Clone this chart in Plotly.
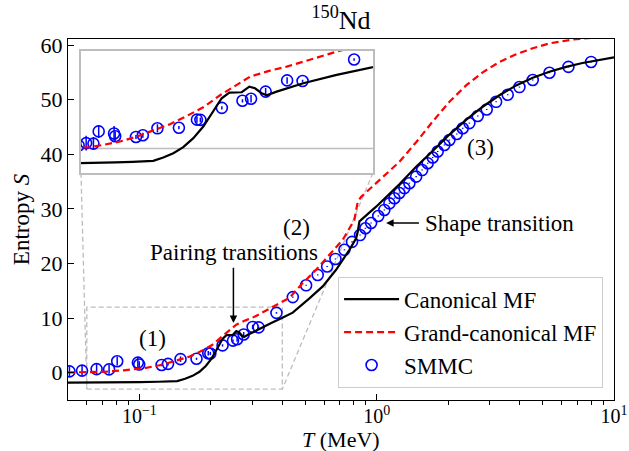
import math
import plotly.graph_objects as go

# ---------------- data ----------------
# SMMC entropy with statistical errors
T_smmc = [0.0507, 0.0573, 0.066, 0.0745, 0.0806, 0.0985, 0.0998, 0.124, 0.132, 0.149,
          0.174, 0.195, 0.199, 0.224, 0.248, 0.258, 0.275, 0.300, 0.318, 0.378,
          0.443, 0.504, 0.564, 0.618, 0.670, 0.731, 0.787, 0.851, 0.896, 0.947,
          1.015, 1.077, 1.131, 1.187, 1.246, 1.308, 1.373, 1.466, 1.554, 1.640,
          1.722, 1.807, 1.929, 2.025, 2.174, 2.304, 2.458, 2.665, 2.908, 3.186,
          3.565, 3.995, 4.545, 5.344, 6.427, 8.01]
S_smmc = [0.24, 0.37, 0.66, 0.60, 2.10, 1.85, 1.50, 1.42, 1.62, 2.48,
          2.55, 3.55, 3.52, 5.00, 5.87, 6.12, 7.00, 8.38, 8.30, 10.95,
          13.84, 16.0, 17.9, 19.45, 20.83, 22.5, 23.95, 25.2, 26.45, 27.4,
          28.7, 29.8, 31.0, 31.95, 32.9, 33.8, 34.7, 35.9, 37.1, 38.36,
          39.4, 40.5, 41.7, 42.6, 43.7, 44.75, 45.7, 47.0, 48.2, 49.6,
          50.9, 52.3, 53.6, 54.93, 56.0, 56.9]
dS_smmc = [0.9, 0.9, 0.9, 0.8, 0.8, 0.9, 0.6, 0.25, 0.3, 0.5,
           0.2, 0.4, 0.3, 0.2, 0.2, 0.45, 0.45, 0.4, 0.15, 0.15,
           0.1, 0.1, 0.1, 0.1, 0.1, 0.1, 0.1, 0.1, 0.1, 0.1,
           0.1, 0.1, 0.1, 0.1, 0.1, 0.1, 0.1, 0.1, 0.1, 0.1,
           0.1, 0.1, 0.1, 0.1, 0.1, 0.1, 0.1, 0.1, 0.1, 0.1,
           0.1, 0.1, 0.1, 0.1, 0.1, 0.1]

# canonical mean-field entropy
T_can = [0.05, 0.06, 0.10, 0.12, 0.1442, 0.1558, 0.1675, 0.1791, 0.1908, 0.2024,
         0.214, 0.2238, 0.2327, 0.2471, 0.256, 0.2626, 0.2704, 0.2762, 0.2878, 0.3188,
         0.3577, 0.4003, 0.4426, 0.5204, 0.5921, 0.6743, 0.7673, 0.8188, 0.8318, 0.8456,
         0.9942, 1.246, 1.466, 1.722, 2.025, 2.38, 2.797, 3.289, 3.869, 4.545,
         5.344, 6.285, 7.37, 10.0]
S_can = [-1.81, -1.81, -1.72, -1.66, -1.53, -1.12, -0.58, 0.16, 1.27, 2.70,
         4.54, 6.18, 6.87, 6.92, 7.61, 7.41, 6.80, 6.55, 7.00, 8.03,
         9.05, 10.07, 11.0, 13.6, 15.8, 18.84, 22.5, 24.6, 25.8, 27.7,
         30.4, 34.5, 37.7, 40.6, 43.6, 46.3, 48.7, 50.8, 52.6, 54.0,
         55.1, 56.0, 56.7, 57.75]

# grand-canonical mean-field entropy
T_gc = [0.05, 0.06, 0.0705, 0.086, 0.1054, 0.1249, 0.1442, 0.1636, 0.1831, 0.2024,
        0.2219, 0.2374, 0.2568, 0.28, 0.2995, 0.3188, 0.3421, 0.3616, 0.4286, 0.4878,
        0.5555, 0.632, 0.719, 0.8054, 0.8318, 0.8598, 0.962, 1.131, 1.246, 1.466,
        1.722, 2.025, 2.38, 2.797, 3.289, 3.869, 4.545, 5.344, 6.699, 8.0, 10.0]
S_gc = [0.05, 0.10, 0.16, 0.44, 0.85, 1.46, 2.20, 2.99, 4.00, 5.07,
        6.55, 7.61, 8.84, 9.58, 10.07, 10.68, 11.38, 12.04, 13.7, 16.4,
        18.84, 21.6, 24.33, 28.0, 31.3, 32.2, 34.1, 36.8, 38.6, 42.2,
        46.0, 49.6, 52.6, 55.0, 56.9, 58.3, 59.4, 60.3, 61.0, 61.3, 61.8]

x_tickvals = [0.1, 1, 10]
x_ticktext = ["10<sup>\u22121</sup>", "10<sup>0</sup>", "10<sup>1</sup>"]
x_minor = [0.06, 0.07, 0.08, 0.09, 0.2, 0.3, 0.4, 0.5, 0.6, 0.7, 0.8, 0.9,
           2, 3, 4, 5, 6, 7, 8, 9]
y_tickvals = [0, 10, 20, 30, 40, 50, 60]

# ---------------- layout constants ----------------
XLIM = (0.05, 10.0)
YLIM = (-5.0, 61.1)
ZOOM_X = (0.06, 0.4)
ZOOM_Y = (-3.0, 12.0)
INSET_X = (0.0238, 0.5586)
INSET_Y = (0.6293, 0.9668)

SERIF = "Liberation Serif"
BLUE = "#0000ff"
RED = "#ff0000"
GRAY = "#bdbdbd"


def paper_to_data(px, py):
    lx0, lx1 = math.log10(XLIM[0]), math.log10(XLIM[1])
    return 10 ** (lx0 + px * (lx1 - lx0)), YLIM[0] + py * (YLIM[1] - YLIM[0])


fig = go.Figure()

# zoom rectangle and connectors to the inset (main axes)
fig.add_trace(go.Scatter(
    x=[ZOOM_X[0], ZOOM_X[1], ZOOM_X[1], ZOOM_X[0], ZOOM_X[0]],
    y=[ZOOM_Y[0], ZOOM_Y[0], ZOOM_Y[1], ZOOM_Y[1], ZOOM_Y[0]],
    mode="lines", line=dict(color=GRAY, width=1.3, dash="5px,3px"),
    showlegend=False, hoverinfo="skip"))
for cx_paper, cx_data in ((INSET_X[0], ZOOM_X[0]), (INSET_X[1], ZOOM_X[1])):
    tx, ty = paper_to_data(cx_paper, INSET_Y[0])
    fig.add_trace(go.Scatter(
        x=[tx, cx_data], y=[ty, ZOOM_Y[0]], mode="lines",
        line=dict(color=GRAY, width=1.3, dash="5px,3px"),
        showlegend=False, hoverinfo="skip"))


def add_curves(xa, ya, legend):
    fig.add_trace(go.Scatter(
        x=T_smmc, y=S_smmc, mode="markers", name="SMMC",
        marker=dict(symbol="circle-open", size=11, color=BLUE, line=dict(width=1.6, color=BLUE)),
        error_y=dict(type="data", array=dS_smmc, color=BLUE, thickness=1.5, width=0),
        xaxis=xa, yaxis=ya, showlegend=legend, legendrank=3, hoverinfo="skip"))
    fig.add_trace(go.Scatter(
        x=T_can, y=S_can, mode="lines", name="Canonical MF",
        line=dict(color="black", width=2.2),
        xaxis=xa, yaxis=ya, showlegend=legend, legendrank=1, hoverinfo="skip"))
    fig.add_trace(go.Scatter(
        x=T_gc, y=S_gc, mode="lines", name="Grand-canonical MF",
        line=dict(color=RED, width=2.2, dash="7px,4px"),
        xaxis=xa, yaxis=ya, showlegend=legend, legendrank=2, hoverinfo="skip"))


add_curves("x", "y", True)

# inset: reference line at S = 0, then the same curves on a linear T axis
fig.add_trace(go.Scatter(x=list(ZOOM_X), y=[0, 0], mode="lines",
                         line=dict(color=GRAY, width=1.5), xaxis="x2", yaxis="y2",
                         showlegend=False, hoverinfo="skip"))
add_curves("x2", "y2", False)

axis_font = dict(family=SERIF, size=22, color="black")
fig.update_layout(
    width=629, height=451,
    margin=dict(l=68, r=15, t=39, b=51),
    paper_bgcolor="white", plot_bgcolor="white",
    font=dict(family=SERIF, color="black"),
    title=dict(text="<sup>150</sup>Nd", x=0.5, xref="paper", xanchor="center",
               y=0.955, yref="container", yanchor="middle",
               font=dict(family=SERIF, size=26, color="black")),
    xaxis=dict(type="log", range=[math.log10(XLIM[0]), math.log10(XLIM[1])],
               automargin=False,
               tickmode="array", tickvals=x_tickvals, ticktext=x_ticktext,
               ticks="inside", ticklen=6, tickwidth=1.2, tickcolor="black",
               ticklabelstandoff=-2,
               minor=dict(tickmode="array", tickvals=x_minor, ticks="outside",
                          ticklen=4, tickwidth=1, tickcolor="black"),
               showline=True, linecolor="black", linewidth=1.2, mirror=True,
               showgrid=False, zeroline=False,
               tickfont=dict(family=SERIF, size=20, color="black")),
    yaxis=dict(range=list(YLIM), tickmode="array", tickvals=y_tickvals,
               automargin=False,
               ticks="inside", ticklen=6, tickwidth=1.2, tickcolor="black",
               showline=True, linecolor="black", linewidth=1.2, mirror=True,
               showgrid=False, zeroline=False, tickfont=axis_font,
               title=dict(text="Entropy <i>S</i>", font=dict(family=SERIF, size=23), standoff=4)),
    xaxis2=dict(domain=list(INSET_X), anchor="y2", range=list(ZOOM_X),
                showticklabels=False, ticks="", showgrid=False, zeroline=False,
                showline=True, linecolor=GRAY, linewidth=1.5, mirror=True),
    yaxis2=dict(domain=list(INSET_Y), anchor="x2", range=list(ZOOM_Y),
                showticklabels=False, ticks="", showgrid=False, zeroline=False,
                showline=True, linecolor=GRAY, linewidth=1.5, mirror=True),
    legend=dict(x=0.98, y=0.034, xanchor="right", yanchor="bottom",
                bgcolor="rgba(255,255,255,0.85)", bordercolor="#cccccc", borderwidth=1,
                font=dict(family=SERIF, size=23, color="black"), itemwidth=55,
                traceorder="normal"),
)

# x-axis title placed just under the tick labels
fig.add_annotation(xref="paper", yref="paper", x=0.5, y=-0.109, yanchor="middle",
                   text="<i>T</i> (MeV)", showarrow=False,
                   font=dict(family=SERIF, size=22, color="black"))

txt = dict(family=SERIF, size=23, color="black")
annotations = [
    dict(x=math.log10(0.1138), y=6.3, text="(1)"),
    dict(x=-0.3397, y=26.6, text="(2)"),
    dict(x=0.437, y=41.3, text="(3)"),
    dict(x=-0.5997, y=22.0, text="Pairing transitions"),
    dict(x=0.1968, y=27.4, text="Shape transition", xanchor="left"),
]
for a in annotations:
    fig.add_annotation(xref="x", yref="y", showarrow=False, font=txt,
                       yanchor="middle", **({"xanchor": "center"} | a))

# arrows pointing at the transitions
fig.add_annotation(xref="x", yref="y", x=-0.6039, y=9.1, ax=-0.6039, ay=19.5,
                   axref="x", ayref="y", text="", showarrow=True,
                   arrowhead=2, arrowsize=1, arrowwidth=1.5, arrowcolor="black")
fig.add_annotation(xref="x", yref="y", x=0.0396, y=27.4, ax=0.1842, ay=27.4,
                   axref="x", ayref="y", text="", showarrow=True,
                   arrowhead=2, arrowsize=1, arrowwidth=1.5, arrowcolor="black")

fig.write_html("out.html")
